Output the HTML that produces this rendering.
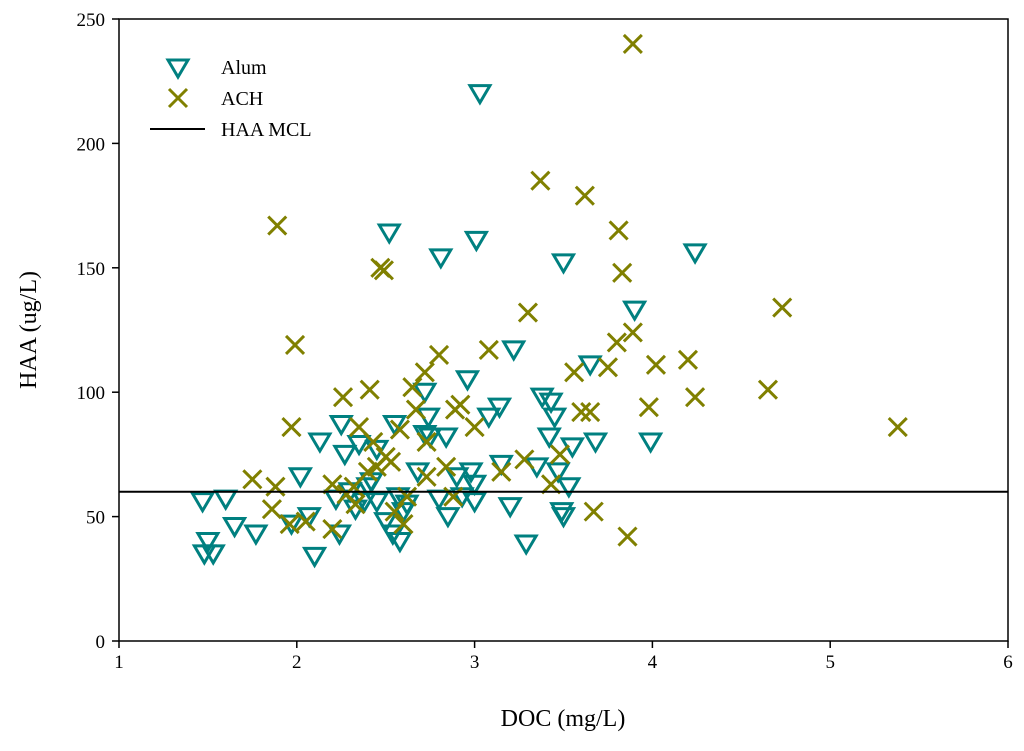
<!DOCTYPE html>
<html><head><meta charset="utf-8"><style>
html,body{margin:0;padding:0;background:#fff}
svg{display:block;font-family:"Liberation Serif",serif}
</style></head><body>
<svg id="chart" width="1024" height="751" viewBox="0 0 1024 751" xmlns="http://www.w3.org/2000/svg">
<g id="grid"></g>
<g id="marks"></g>
</svg>
<script>
const xTicks=[1,2,3,4,5,6];
const yTicks=[0,50,100,150,200,250];
const mclValue=60;
const alumX=[1.47,1.5,1.48,1.53,1.6,1.65,1.77,1.97,2.02,2.07,2.1,2.13,2.22,2.25,2.27,2.24,2.3,2.33,2.35,2.38,2.4,2.42,2.45,2.45,2.5,2.52,2.54,2.55,2.57,2.58,2.6,2.62,2.68,2.72,2.72,2.74,2.75,2.8,2.81,2.84,2.85,2.9,2.93,2.96,2.98,3.0,3.0,3.01,3.03,3.08,3.14,3.15,3.2,3.22,3.29,3.35,3.38,3.42,3.43,3.45,3.47,3.49,3.5,3.5,3.53,3.55,3.65,3.68,3.9,3.99,4.24];
const alumY=[56,40,35,35,57,46,43,47,66,50,34,80,57,87,75,43,60,53,79,56,62,64,77,56,48,164,43,87,58,40,52,55,68,100,83,90,82,57,154,82,50,66,58,105,68,63,56,161,220,90,94,71,54,117,39,70,98,82,96,90,68,52,50,152,62,78,111,80,133,80,156];
const achX=[1.75,1.88,1.86,1.89,1.96,1.97,1.99,2.05,2.2,2.2,2.26,2.28,2.32,2.33,2.35,2.4,2.41,2.43,2.45,2.47,2.49,2.5,2.53,2.55,2.58,2.6,2.62,2.65,2.67,2.72,2.73,2.73,2.8,2.84,2.88,2.89,2.92,3.0,3.08,3.15,3.28,3.3,3.37,3.43,3.48,3.56,3.6,3.62,3.65,3.67,3.75,3.8,3.81,3.83,3.86,3.89,3.89,3.98,4.02,4.2,4.24,4.65,4.73,5.38];
const achY=[65,62,53,167,47,86,119,48,45,63,98,59,62,55,86,68,101,80,70,150,149,74,72,52,85,47,58,102,93,108,80,66,115,70,58,93,95,86,117,68,73,132,185,63,75,108,92,179,92,52,110,120,165,148,42,124,240,94,111,113,98,101,134,86];

const L=119,R=1008,T=19,B=641;
const sx=v=>L+(v-1)/(6-1)*(R-L);
const sy=v=>B-v/250*(B-T);
const NS="http://www.w3.org/2000/svg";
const svg=document.getElementById('chart');
const grid=document.getElementById('grid');
const marks=document.getElementById('marks');
function mk(tag,attrs,parent){const e=document.createElementNS(NS,tag);for(const k in attrs)e.setAttribute(k,attrs[k]);(parent||svg).appendChild(e);return e;}

let frame=mk('rect',{x:L,y:T,width:R-L,height:B-T,fill:'none',stroke:'#000','stroke-width':1.5},grid);



xTicks.forEach(t=>{
  const x=sx(t);
  let l=mk('line',{x1:x,x2:x,y1:B,y2:B+7,stroke:'#000','stroke-width':1.5},grid);
  
  
  let tx=mk('text',{x:x,y:B+27,'text-anchor':'middle','font-size':19},grid);
  tx.textContent=t;
  
  
});
yTicks.forEach(t=>{
  const y=sy(t);
  let l=mk('line',{x1:L-7,x2:L,y1:y,y2:y,stroke:'#000','stroke-width':1.5},grid);
  
  
  let tx=mk('text',{x:L-14,y:y+7,'text-anchor':'end','font-size':19},grid);
  tx.textContent=t;
  
  
});
let xt=mk('text',{x:563,y:726,'text-anchor':'middle','font-size':24},grid);
xt.textContent='DOC (mg/L)';


let yt=mk('text',{x:0,y:0,'text-anchor':'middle','font-size':24,transform:'translate(36,330) rotate(-90)'},grid);
yt.textContent='HAA (ug/L)';



function tri(cx,cy,p){return mk('path',{d:`M${cx-10},${cy-8} L${cx+10},${cy-8} L${cx},${cy+9} Z`,fill:'none',stroke:'#008080','stroke-width':3,'stroke-linejoin':'miter'},p);}
function cross(cx,cy,p){return mk('path',{d:`M${cx-9},${cy-9} L${cx+9},${cy+9} M${cx-9},${cy+9} L${cx+9},${cy-9}`,fill:'none',stroke:'#808000','stroke-width':3},p);}

alumX.forEach((v,i)=>{
  const m=tri(sx(v),sy(alumY[i]),marks);
  
  
});
achX.forEach((v,i)=>{
  const m=cross(sx(v),sy(achY[i]),marks);
  
  
});
let mcl=mk('line',{x1:L,x2:R,y1:sy(mclValue),y2:sy(mclValue),stroke:'#000','stroke-width':2},marks);



const leg=mk('g',{},svg);


let e1=tri(178,68,leg);


let e2=cross(178,98,leg);


let e3=mk('line',{x1:150,x2:205,y1:129,y2:129,stroke:'#000','stroke-width':2},leg);


[['Alum',74],['ACH',105],['HAA MCL',136]].forEach(([s,y])=>{
  let t=mk('text',{x:221,y:y,'font-size':20},leg);
  t.textContent=s;
  
  
});
</script>
</body></html>
